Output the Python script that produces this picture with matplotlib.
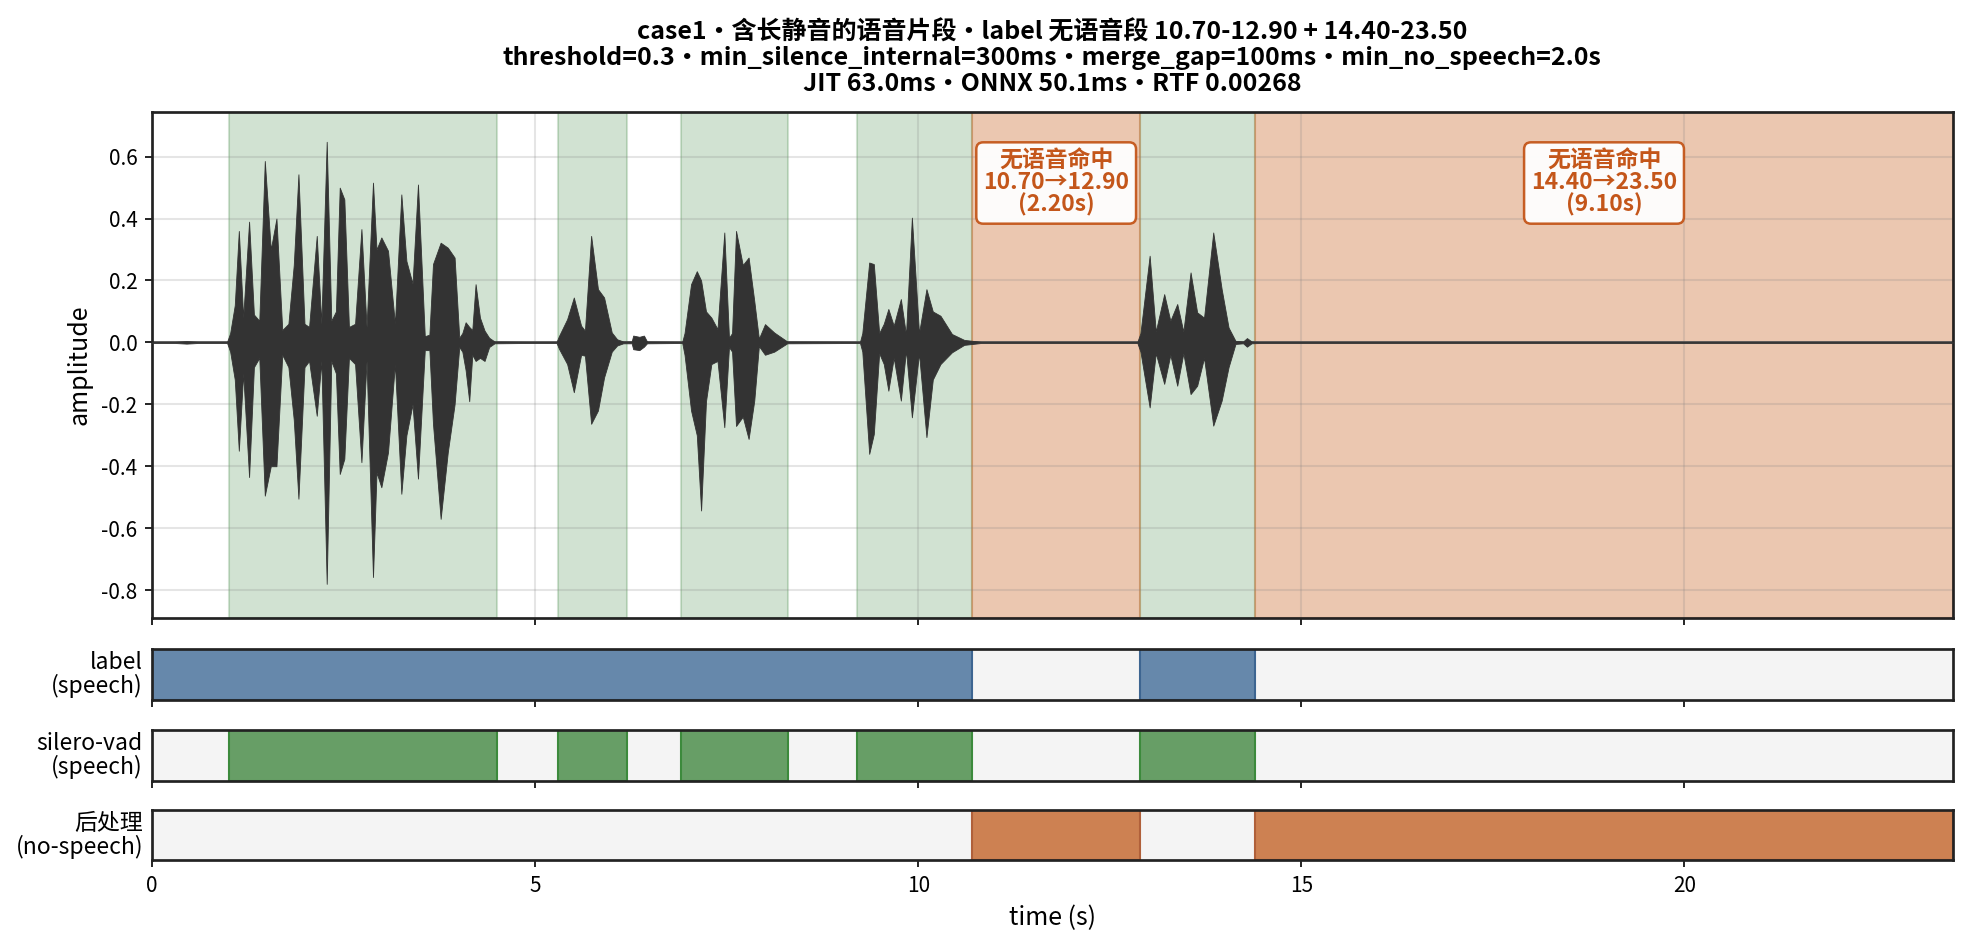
import matplotlib
matplotlib.use("Agg")
import matplotlib.pyplot as plt
import matplotlib.transforms as mtransforms

plt.rcParams["font.family"] = ["Noto Sans CJK SC", "DejaVu Sans"]
plt.rcParams["axes.unicode_minus"] = False

# ── data ──────────────────────────────────────────────────────────────────────
DURATION = 23.5
TITLE = ("case1・含长静音的语音片段・label 无语音段 10.70-12.90 + 14.40-23.50\n"
         "threshold=0.3・min_silence_internal=300ms・merge_gap=100ms・min_no_speech=2.0s\n"
         "JIT 63.0ms・ONNX 50.1ms・RTF 0.00268")

LABEL_SPEECH = [(0.0, 10.7), (12.9, 14.4)]
VAD_SPEECH = [(1.0, 4.5), (5.3, 6.2), (6.9, 8.3), (9.2, 10.7), (12.9, 14.4)]
NO_SPEECH = [(10.7, 12.9), (14.4, 23.5)]

ROW_LABELS = ["label\n(speech)", "silero-vad\n(speech)", "后处理\n(no-speech)"]

# waveform envelope (time s, upper, lower)
WAVE_T = [0.0, 0.3, 0.45, 0.6, 0.98,
          1.02, 1.08, 1.133, 1.19, 1.267, 1.33, 1.40, 1.472, 1.55, 1.624, 1.70, 1.78,
          1.85, 1.911, 1.99, 2.05, 2.15, 2.21, 2.28, 2.34, 2.40, 2.45, 2.51, 2.57,
          2.65, 2.733, 2.80, 2.884, 2.93, 2.993, 3.08, 3.17, 3.254, 3.32, 3.40, 3.471,
          3.56, 3.62, 3.667, 3.767, 3.86, 3.949, 4.01, 4.05, 4.093, 4.14, 4.18, 4.223,
          4.28, 4.34, 4.40, 4.47, 4.9, 5.28,
          5.31, 5.418, 5.505, 5.60, 5.65, 5.731, 5.82, 5.90, 6.00, 6.07, 6.15, 6.26,
          6.28, 6.36, 6.42, 6.46, 6.92,
          6.95, 7.035, 7.11, 7.166, 7.23, 7.30, 7.38, 7.469, 7.53, 7.57, 7.622, 7.71,
          7.786, 7.86, 7.92, 8.0, 8.12, 8.29, 9.24,
          9.27, 9.36, 9.42, 9.49, 9.55, 9.61, 9.68, 9.773, 9.84, 9.917, 10.01, 10.107,
          10.19, 10.29, 10.44, 10.6, 10.82, 12.86,
          12.90, 13.02, 13.10, 13.21, 13.29, 13.38, 13.46, 13.554, 13.64, 13.73, 13.85,
          13.96, 14.05, 14.14, 14.24, 14.29, 14.35, 14.46, 23.5]
WAVE_HI = [0.002, 0.002, 0.004, 0.002, 0.002,
           0.03, 0.12, 0.36, 0.08, 0.39, 0.09, 0.07, 0.586, 0.30, 0.40, 0.04, 0.06,
           0.25, 0.543, 0.06, 0.05, 0.344, 0.06, 0.648, 0.07, 0.10, 0.50, 0.462, 0.05,
           0.06, 0.366, 0.05, 0.516, 0.30, 0.339, 0.296, 0.06, 0.478, 0.263, 0.19, 0.51,
           0.02, 0.025, 0.253, 0.322, 0.306, 0.274, 0.015, 0.03, 0.065, 0.05, 0.04, 0.188,
           0.08, 0.038, 0.015, 0.003, 0.002, 0.002,
           0.02, 0.075, 0.145, 0.054, 0.038, 0.344, 0.172, 0.145, 0.032, 0.01, 0.003, 0.003,
           0.022, 0.018, 0.022, 0.003, 0.002,
           0.03, 0.188, 0.23, 0.20, 0.10, 0.08, 0.043, 0.355, 0.015, 0.03, 0.36, 0.25,
           0.274, 0.134, 0.012, 0.059, 0.032, 0.003, 0.002,
           0.03, 0.258, 0.253, 0.03, 0.06, 0.108, 0.054, 0.14, 0.025, 0.403, 0.03, 0.172,
           0.10, 0.086, 0.027, 0.008, 0.002, 0.002,
           0.03, 0.28, 0.035, 0.156, 0.07, 0.124, 0.035, 0.226, 0.097, 0.08, 0.355,
           0.172, 0.048, 0.005, 0.003, 0.014, 0.003, 0.002, 0.002]
WAVE_LO = [-0.002, -0.002, -0.004, -0.002, -0.002,
           -0.03, -0.12, -0.35, -0.10, -0.435, -0.08, -0.05, -0.495, -0.40, -0.40, -0.04, -0.08,
           -0.25, -0.505, -0.08, -0.06, -0.237, -0.06, -0.78, -0.06, -0.10, -0.425, -0.376, -0.05,
           -0.07, -0.387, -0.06, -0.758, -0.42, -0.468, -0.355, -0.07, -0.489, -0.30, -0.20, -0.44,
           -0.025, -0.025, -0.263, -0.57, -0.355, -0.20, -0.015, -0.03, -0.09, -0.19, -0.04, -0.06,
           -0.05, -0.06, -0.015, -0.003, -0.002, -0.002,
           -0.02, -0.07, -0.161, -0.04, -0.043, -0.263, -0.22, -0.113, -0.03, -0.01, -0.003, -0.003,
           -0.022, -0.025, -0.014, -0.003, -0.002,
           -0.04, -0.22, -0.30, -0.543, -0.19, -0.07, -0.06, -0.274, -0.015, -0.03, -0.27, -0.24,
           -0.312, -0.188, -0.012, -0.04, -0.03, -0.003, -0.002,
           -0.03, -0.36, -0.296, -0.035, -0.07, -0.156, -0.05, -0.188, -0.025, -0.242, -0.035, -0.306,
           -0.12, -0.07, -0.032, -0.008, -0.002, -0.002,
           -0.03, -0.21, -0.035, -0.134, -0.04, -0.14, -0.035, -0.167, -0.14, -0.05, -0.269,
           -0.188, -0.08, -0.005, -0.003, -0.014, -0.003, -0.002, -0.002]

# ── style ─────────────────────────────────────────────────────────────────────
WAVE_COLOR = "#333333"
GREEN = "#2e7d32"
ORANGE = "#c8601e"
TXT_ORANGE = "#c4561a"
BAR_BG = "#f4f4f4"
BAR_BLUE = "#6688ab"
BAR_GREEN = "#679e66"
BAR_ORANGE = "#cd8152"


def style_spines(ax):
    for s in ax.spines.values():
        s.set_linewidth(1.3)
        s.set_color("#222222")


def draw_bar(ax, segs, color, edge):
    ax.set_facecolor(BAR_BG)
    ax.broken_barh([(a, b - a) for a, b in segs], (0, 1),
                   facecolors=color, edgecolors=edge, linewidth=1.0)
    ax.set_ylim(0, 1)
    ax.set_yticks([])
    style_spines(ax)


fig = plt.figure(figsize=(1969 / 150, 947 / 150), dpi=150)
L, W = 0.0772, 0.9145
ax = fig.add_axes([L, 0.3475, W, 0.5345])
ax_lab = fig.add_axes([L, 0.2613, W, 0.0530], sharex=ax)
ax_vad = fig.add_axes([L, 0.1751, W, 0.0543], sharex=ax)
ax_post = fig.add_axes([L, 0.0915, W, 0.0531], sharex=ax)

# waveform panel
for a, b in VAD_SPEECH:
    ax.axvspan(a, b, color=GREEN, alpha=0.22, lw=1.0)
for a, b in NO_SPEECH:
    ax.axvspan(a, b, color=ORANGE, alpha=0.35, lw=1.0)
ax.axhline(0, color="#555555", lw=0.8, zorder=2.5)
ax.fill_between(WAVE_T, WAVE_LO, WAVE_HI, color=WAVE_COLOR, lw=0.4, zorder=3)
ax.grid(True, color="grey", alpha=0.2, lw=1.0)
ax.set_xlim(0, DURATION)
ax.set_ylim(-0.89, 0.745)
ax.set_yticks([-0.8, -0.6, -0.4, -0.2, 0.0, 0.2, 0.4, 0.6])
ax.set_ylabel("amplitude", fontsize=12)
ax.tick_params(labelbottom=False, labelsize=10)
style_spines(ax)

trans = mtransforms.blended_transform_factory(ax.transData, ax.transAxes)
for a, b in NO_SPEECH:
    ax.text((a + b) / 2, 0.926, f"无语音命中\n{a:.2f}→{b:.2f}\n({b - a:.2f}s)",
            transform=trans, ha="center", va="top", fontsize=11,
            fontweight="bold", color=TXT_ORANGE, linespacing=0.95, zorder=5,
            bbox=dict(boxstyle="round,pad=0.3", fc="white", ec=TXT_ORANGE,
                      lw=1.2, alpha=0.95))

ax.set_title(TITLE, fontsize=12, fontweight="bold", linespacing=1.08, pad=10)

# segment rows
draw_bar(ax_lab, LABEL_SPEECH, BAR_BLUE, "#3d6591")
draw_bar(ax_vad, VAD_SPEECH, BAR_GREEN, "#3c8a3c")
draw_bar(ax_post, NO_SPEECH, BAR_ORANGE, "#b0603a")
for row_ax, txt in zip([ax_lab, ax_vad, ax_post], ROW_LABELS):
    row_ax.set_ylabel(txt, rotation=0, ha="right", va="center", fontsize=11,
                      multialignment="right", linespacing=1.0)
    row_ax.yaxis.set_label_coords(-0.005, 0.5)
    row_ax.tick_params(labelbottom=False, labelsize=10)
ax_post.tick_params(labelbottom=True)
ax_post.set_xticks([0, 5, 10, 15, 20])
ax_post.set_xlabel("time (s)", fontsize=12)

fig.savefig("out.png", dpi=150)
